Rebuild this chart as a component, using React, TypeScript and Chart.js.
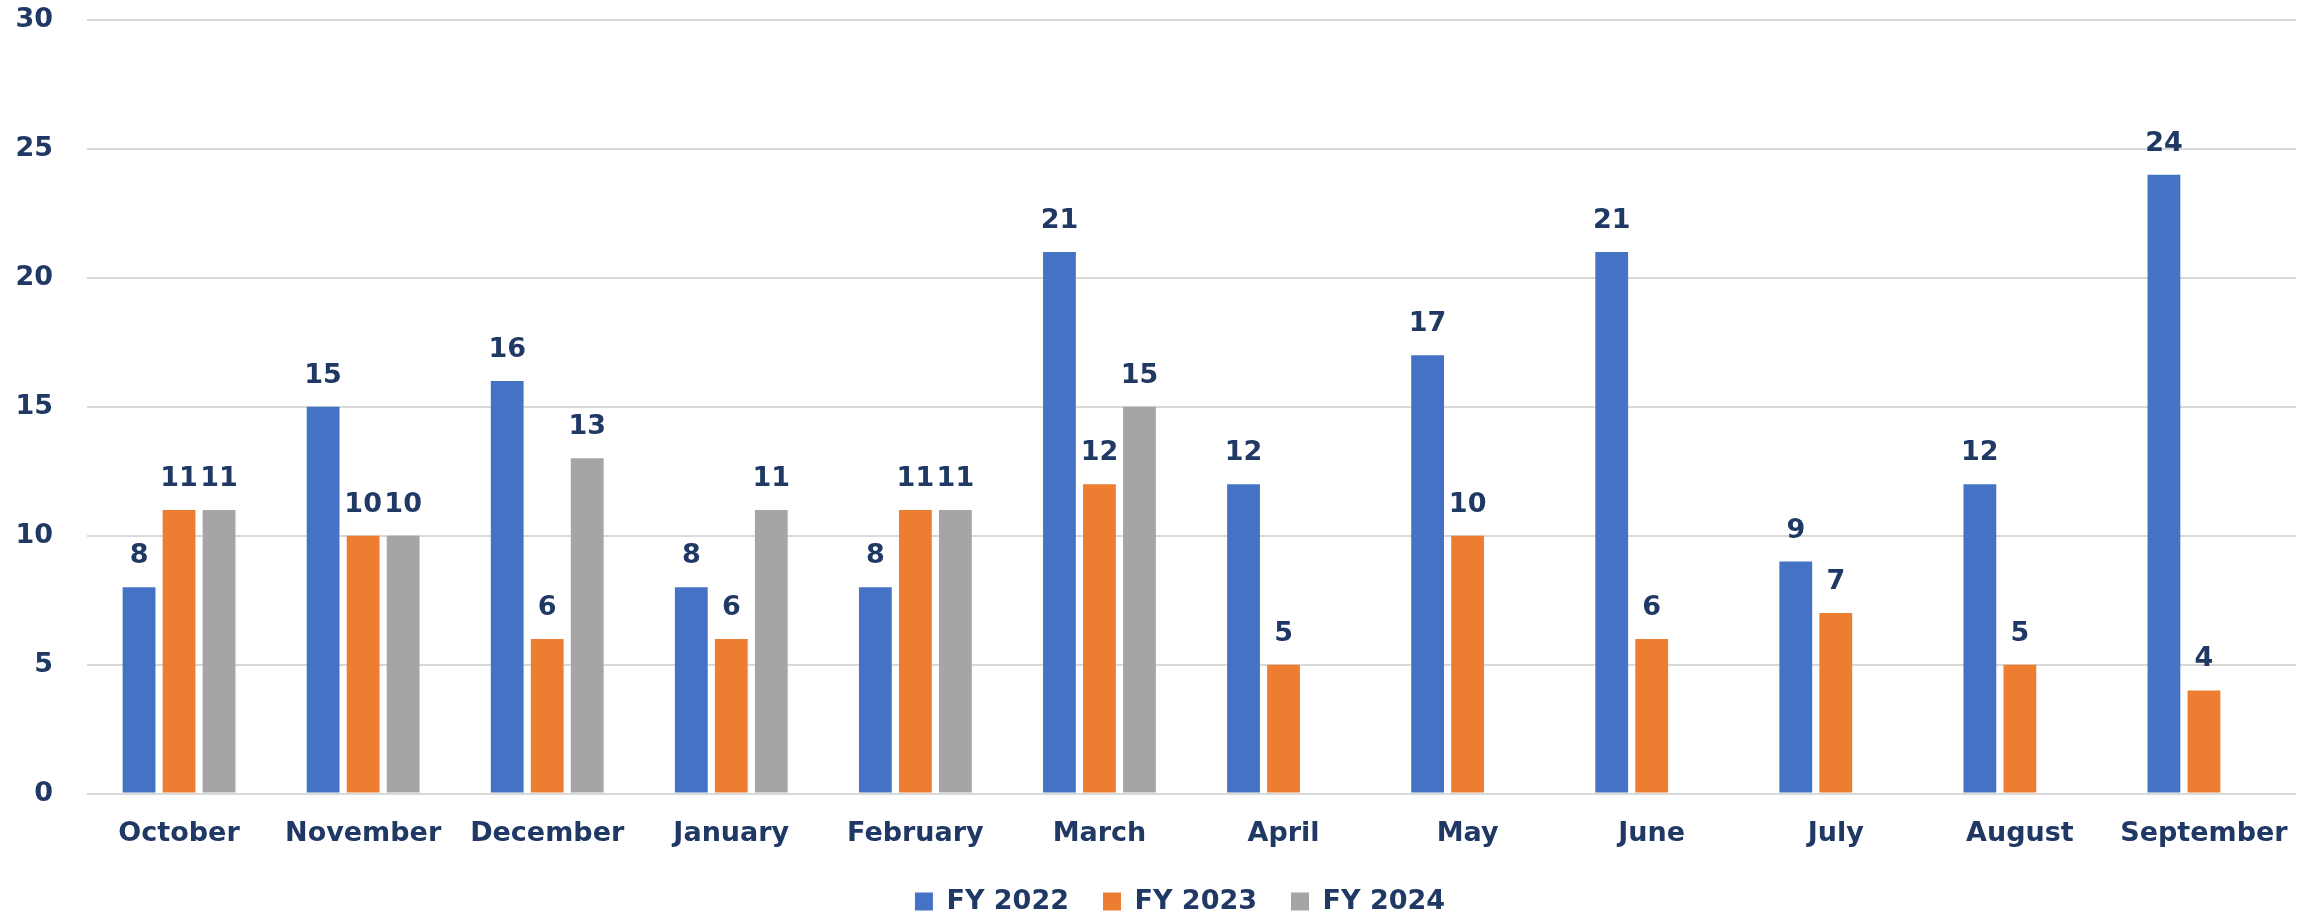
import React, { useEffect, useRef } from "react";
import { Chart, registerables } from "chart.js";

Chart.register(...registerables);

const months = ["October", "November", "December", "January", "February", "March", "April", "May", "June", "July", "August", "September"];
const fy2022 = [8, 15, 16, 8, 8, 21, 12, 17, 21, 9, 12, 24];
const fy2023 = [11, 10, 6, 6, 11, 12, 5, 10, 6, 7, 5, 4];
const fy2024: (number | null)[] = [11, 10, 13, 11, 11, 15, null, null, null, null, null, null];
const seriesNames = ["FY 2022", "FY 2023", "FY 2024"];
const yTicks = [0, 5, 10, 15, 20, 25, 30];

const TEXT = "#203864";
const FONT = "'DejaVu Sans', sans-serif";
const FS = 27;

const labelPlugin = {
  id: "barLabels",
  afterDatasetsDraw(chart: any) {
    const ctx = chart.ctx;
    ctx.save();
    ctx.font = `bold ${FS}px ${FONT}`;
    ctx.fillStyle = TEXT;
    ctx.textAlign = "center";
    ctx.textBaseline = "alphabetic";
    chart.data.datasets.forEach((ds: any, i: number) => {
      const meta = chart.getDatasetMeta(i);
      meta.data.forEach((bar: any, j: number) => {
        const v = ds.data[j];
        if (v === null || v === undefined) return;
        ctx.fillText(String(v), bar.x, bar.y - 24);
      });
    });
    ctx.restore();
  },
};

const legendShift = {
  id: "legendShift",
  afterLayout(chart: any) {
    if (chart.legend) {
      chart.legend.left += 25;
      chart.legend.right += 25;
    }
  },
};

export default function App() {
  const ref = useRef<HTMLCanvasElement>(null);
  useEffect(() => {
    if (!ref.current) return;
    const chart = new Chart(ref.current, {
      type: "bar",
      data: {
        labels: months,
        datasets: [
          { label: seriesNames[0], data: fy2022, backgroundColor: "#4472C4" },
          { label: seriesNames[1], data: fy2023, backgroundColor: "#ED7D31" },
          { label: seriesNames[2], data: fy2024, backgroundColor: "#A5A5A5" },
        ],
      },
      options: {
        animation: false,
        responsive: false,
        maintainAspectRatio: false,
        datasets: { bar: { categoryPercentage: 0.652, barPercentage: 0.82 } },
        layout: { padding: { top: 20, right: 9, bottom: -4, left: 14 } },
        plugins: {
          tooltip: { enabled: false },
          legend: {
            position: "bottom",
            labels: {
              font: { family: FONT, size: FS, weight: "bold" },
              color: TEXT,
              boxWidth: 18,
              boxHeight: 18,
              padding: 34,
            },
          },
        },
        scales: {
          x: {
            grid: { display: false },
            border: { display: false },
            afterFit(scale: any) { scale.height = scale.height - 12; },
            ticks: { color: TEXT, font: { family: FONT, size: FS, weight: "bold" }, padding: 16, maxRotation: 0 },
          },
          y: {
            min: 0,
            max: 30,
            afterFit(scale: any) { scale.width = 73; },
            afterBuildTicks(scale: any) { scale.ticks = yTicks.map((v) => ({ value: v })); },
            grid: { color: "#D9D9D9", lineWidth: 2, drawTicks: true, tickLength: 34, tickColor: "rgba(0,0,0,0)" },
            border: { display: false },
            ticks: { color: TEXT, font: { family: FONT, size: FS, weight: "bold" }, padding: 0 },
          },
        },
      },
      plugins: [labelPlugin, legendShift],
    });
    return () => chart.destroy();
  }, []);
  return (
    <div style={{ position: "absolute", left: 0, top: 0, width: 2305, height: 921, background: "#fff" }}>
      <canvas ref={ref} width={2305} height={921} style={{ width: 2305, height: 921 }} />
    </div>
  );
}
